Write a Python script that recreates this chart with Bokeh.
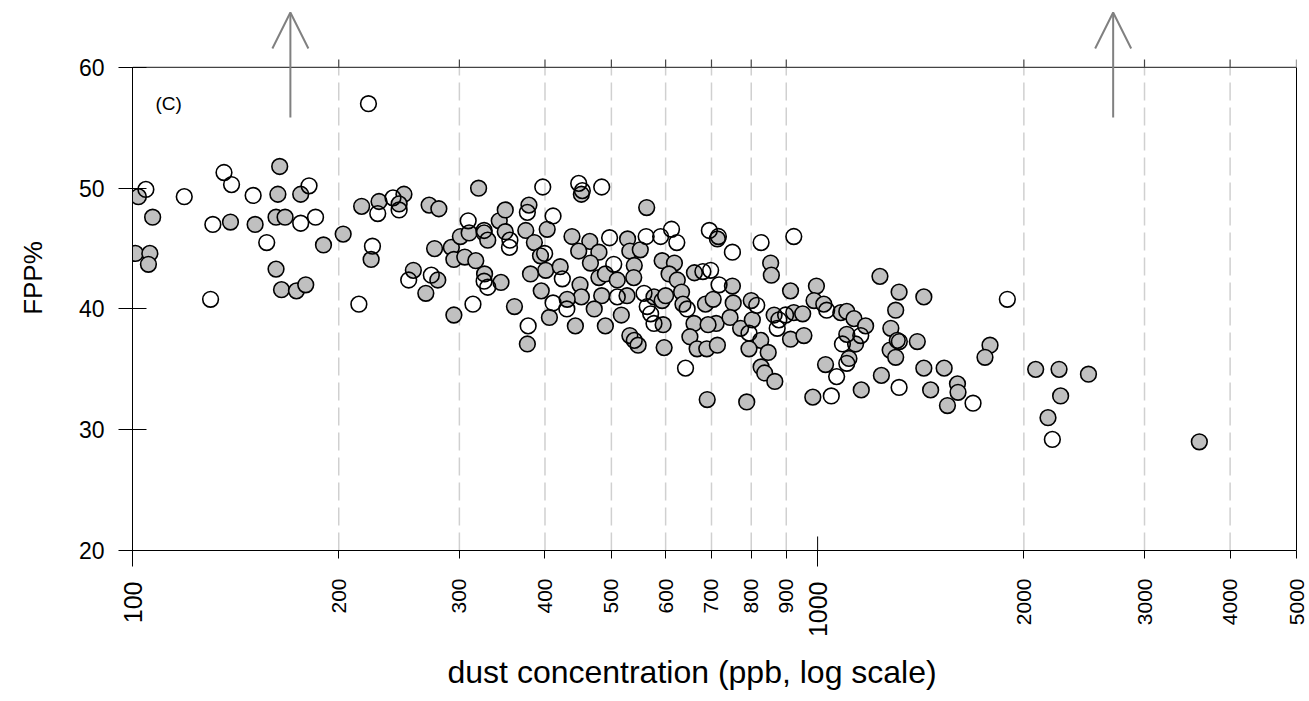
from math import pi
from bokeh.plotting import figure
from bokeh.models import (FixedTicker, LogAxis, LinearAxis, Label, Arrow, OpenHead, Range1d, Title)
from bokeh.embed import file_html
from bokeh.resources import INLINE

# ---- data (dust concentration ppb, FPP%) ----
filled_x = [164, 102, 163, 176, 107, 139, 151, 162, 167, 190, 203, 216, 101, 106, 105.5, 162, 165, 173.5, 179,
            229, 249, 245, 271, 280, 223, 257, 279, 268, 276, 292, 294.5, 305.5, 317, 294.5, 320, 301, 310, 326,
            330, 326.5, 345, 361, 377, 343, 350, 350, 375, 386, 379, 403, 394, 401, 381, 395, 406,
            452, 563, 438, 465, 448, 479.5, 528, 532, 551, 466, 421, 479.5, 490, 510, 540, 539, 450, 452, 484,
            431, 472, 527, 517, 443, 490, 532, 547, 577, 595, 593, 600, 597, 593, 618, 607, 624, 633, 636, 660,
            651, 667, 689, 714, 661, 751, 686, 704, 711, 692, 753, 745, 772, 714, 690,
            854, 856, 913, 996, 988, 1021, 800, 803, 826, 847, 794, 827, 837, 866, 788, 864, 923, 951, 913, 955,
            984, 1027, 1081, 1103, 1130, 1175, 1136, 1103, 1111, 1158, 1233, 1315, 1300, 1429, 1279, 1276, 1307,
            1300, 1398, 1239, 1429, 1462, 1785, 1755, 1530, 1600, 1603, 1547, 2081, 2251, 2485, 2263, 2169, 3607]
filled_y = [51.8, 49.3, 49.5, 49.5, 47.6, 47.2, 47.0, 47.6, 47.6, 45.3, 46.2, 48.5, 44.6, 44.6, 43.7, 43.3, 41.6, 41.5, 42.0,
            48.9, 49.5, 48.7, 48.6, 48.3, 44.1, 43.2, 42.4, 41.3, 45.0, 45.1, 44.1, 44.3, 44.0, 39.5, 50.0, 46.0, 46.3, 46.3,
            45.7, 42.9, 42.2, 40.2, 37.1, 47.3, 48.2, 46.4, 46.5, 45.5, 48.6, 46.6, 44.4, 43.2, 42.9, 41.5, 39.3,
            49.5, 48.4, 46.0, 45.6, 44.8, 44.7, 45.8, 44.8, 44.9, 43.8, 43.5, 42.6, 42.9, 42.4, 43.6, 42.6, 42.0, 41.0, 41.1,
            40.8, 40.0, 41.1, 39.5, 38.6, 38.6, 37.8, 37.0, 41.0, 38.7, 40.7, 41.1, 36.8, 44.0, 43.8, 42.9, 42.4, 41.4, 40.4, 38.8,
            37.7, 36.7, 36.7, 37.0, 43.0, 41.9, 40.4, 40.8, 38.8, 38.7, 40.5, 39.3, 38.4, 45.8, 32.5,
            43.8, 42.8, 41.5, 41.9, 40.7, 40.4, 40.7, 39.1, 37.4, 36.4, 36.7, 35.2, 34.7, 34.0, 32.3, 39.5, 39.7, 39.6, 37.5, 37.8,
            32.7, 35.4, 39.7, 39.8, 39.2, 38.6, 37.1, 37.9, 35.9, 33.3, 42.7, 41.4, 39.9, 41.0, 38.4, 36.6, 37.4,
            36.0, 37.3, 34.5, 35.1, 33.3, 37.0, 36.0, 35.1, 33.8, 33.1, 32.0, 35.0, 35.0, 34.6, 32.8, 31.0, 29.0]

open_x = [136, 139.5, 104.6, 119, 150, 181, 131, 176, 185, 157, 130, 214, 221,
          228, 240, 245, 224, 253, 273, 314, 309, 326, 326, 330, 378, 355.5, 355, 377, 397, 411, 399.5, 411,
          448, 453.5, 484,
          497, 562, 590, 612, 623, 424, 504, 430.5, 510, 558, 540, 564, 570.5, 577, 645, 641.5, 680, 698, 718,
          695, 716.5, 751,
          827, 923, 1031, 815, 794, 878, 873, 898, 1047, 1066, 1156, 1087, 1103, 1316, 1315,
          1892, 1686, 2201]
open_y = [51.3, 50.3, 49.9, 49.3, 49.4, 50.2, 47.0, 47.1, 47.6, 45.5, 40.8, 40.4, 57.0,
          47.9, 49.2, 48.2, 45.2, 42.4, 42.8, 40.4, 47.3, 46.5, 42.3, 41.8, 38.6, 45.7, 45.1, 48.0, 50.1, 47.7, 44.6, 40.5,
          50.4, 49.8, 50.1,
          45.9, 46.0, 46.0, 46.6, 45.5, 42.5, 43.7, 40.0, 41.0, 41.3, 37.4, 40.2, 39.6, 38.8, 40.0, 35.1, 43.1, 43.2, 42.0,
          46.5, 46.0, 44.7,
          45.5, 46.0, 39.9, 40.3, 38.0, 39.1, 38.4, 39.5, 32.8, 34.4, 37.8, 37.1, 35.5, 37.3, 33.5,
          40.8, 32.2, 29.2]

x_ticks = [100, 200, 300, 400, 500, 600, 700, 800, 900, 1000, 2000, 3000, 4000, 5000]
big_x_ticks = [100, 1000]
top_ticks = [200, 300, 400, 500, 600, 700, 800, 900, 2000, 3000, 4000, 5000]
grid_x = [200, 300, 400, 500, 600, 700, 800, 900, 2000, 3000, 4000]
y_ticks = [20, 30, 40, 50, 60]
x_min, x_max = 100, 5000
y_min, y_max = 20, 60
y_view_top = 65.13          # room above the box for the arrows
arrow_x = [170, 2700]
arrow_y_start = 55.86
arrow_y_tip = 64.55
top_tick_len = 0.66
inner_tick_len = 1.16

FONT = "Liberation Sans"

p = figure(width=1309, height=701, x_axis_type="log", title=None,
           x_range=Range1d(x_min, x_max), y_range=Range1d(y_min, y_view_top),
           output_backend="svg", toolbar_location=None,
           min_border_left=132, min_border_right=13, min_border_top=5, min_border_bottom=151)
p.outline_line_color = None
p.background_fill_color = "white"
p.border_fill_color = "white"
p.xgrid.visible = False
p.ygrid.visible = False

# bottom axis: all ticks, small labels
xa = p.xaxis[0]
xa.ticker = FixedTicker(ticks=x_ticks, minor_ticks=[])
xa.major_label_overrides = {t: "" for t in big_x_ticks}
xa.major_label_orientation = pi / 2
xa.major_tick_out = 8
xa.major_tick_in = 0
xa.minor_tick_out = 0
xa.minor_tick_in = 0
xa.major_label_standoff = 20
xa.major_label_text_font = FONT
xa.major_label_text_font_size = "21px"
xa.major_label_text_color = "black"
xa.axis_line_color = "black"
xa.major_tick_line_color = "black"

# second bottom axis: long ticks and big labels at 100 and 1000
xb = LogAxis(ticker=FixedTicker(ticks=big_x_ticks, minor_ticks=[]),
             major_label_overrides={t: str(t) for t in big_x_ticks},
             axis_line_color=None, major_tick_line_color="black",
             major_tick_in=75, major_tick_out=-62, minor_tick_in=0, minor_tick_out=-62,
             major_label_orientation=pi / 2, major_label_standoff=-47,
             major_label_text_font=FONT, major_label_text_font_size="25px",
             major_label_text_color="black")
p.add_layout(xb, "below")

p.add_layout(Title(text="dust concentration (ppb, log scale)", align="left", offset=315,
                   text_font=FONT, text_font_size="32px", text_font_style="normal",
                   text_color="black", standoff=22), "below")

# left axis
ya = p.yaxis[0]
ya.bounds = (y_min, y_max)
ya.ticker = FixedTicker(ticks=y_ticks, minor_ticks=[])
ya.major_tick_in = 14
ya.major_tick_out = 14
ya.minor_tick_in = 0
ya.minor_tick_out = 0
ya.major_label_standoff = 14
ya.major_label_text_font = FONT
ya.major_label_text_font_size = "23px"
ya.major_label_text_color = "black"
ya.axis_line_color = "black"
ya.major_tick_line_color = "black"
ya.axis_label = "FPP%"
ya.axis_label_text_font = FONT
ya.axis_label_text_font_size = "26px"
ya.axis_label_text_font_style = "normal"
ya.axis_label_text_color = "black"
ya.axis_label_standoff = 28

# right border
ra = LinearAxis(bounds=(y_min, y_max), ticker=FixedTicker(ticks=[], minor_ticks=[]),
                major_tick_in=0, major_tick_out=0, minor_tick_in=0, minor_tick_out=0,
                major_label_standoff=0, axis_line_color="black")
p.add_layout(ra, "right")

# dashed vertical reference lines
p.segment(x0=grid_x, y0=[y_min] * len(grid_x), x1=grid_x, y1=[y_max] * len(grid_x),
          line_color="#d0d0d0", line_width=1.5, line_dash="18 7")

# top border and its ticks
p.segment(x0=[x_min], y0=[y_max], x1=[x_max], y1=[y_max], line_color="#444444", line_width=1.2)
p.segment(x0=top_ticks, y0=[y_max] * len(top_ticks), x1=top_ticks,
          y1=[y_max + top_tick_len] * len(top_ticks), line_color="#444444", line_width=1.2)
# inner part of the 1000 tick
p.segment(x0=[1000], y0=[y_min], x1=[1000], y1=[y_min + inner_tick_len], line_color="black", line_width=1)

# points
p.scatter(filled_x, filled_y, size=15.7, fill_color="#c0c0c0", line_color="black", line_width=1.6)
p.scatter(open_x, open_y, size=15.7, fill_color=None, line_color="black", line_width=1.6)

# panel label
p.add_layout(Label(x=108, y=57.0, text="(C)", text_align="left", text_baseline="middle",
                   text_font=FONT, text_font_size="19px", text_color="black"))

# arrows
for ax in arrow_x:
    p.add_layout(Arrow(end=OpenHead(size=36, line_color="#808080", line_width=2),
                       x_start=ax, y_start=arrow_y_start, x_end=ax, y_end=arrow_y_tip,
                       line_color="#808080", line_width=2))

open("out.html", "w").write(file_html(p, INLINE))
